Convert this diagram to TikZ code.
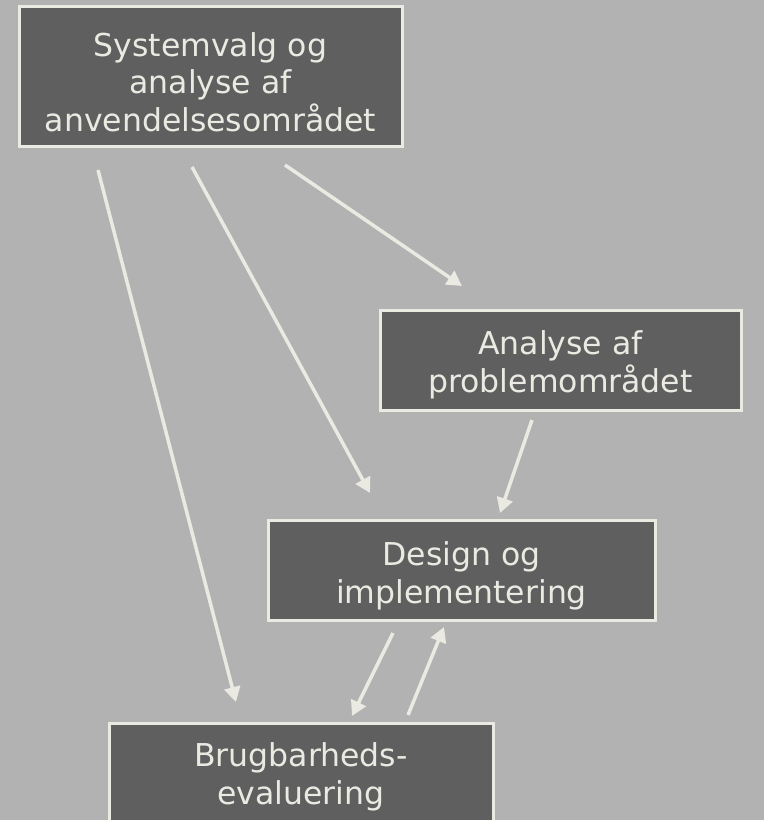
\documentclass[tikz,border=0pt]{standalone}
\usepackage{fontspec}
\setmainfont{DejaVu Sans}
\usetikzlibrary{arrows.meta}
\definecolor{bgc}{HTML}{B2B2B2}
\definecolor{boxc}{HTML}{5F5F5F}
\definecolor{linec}{HTML}{EAEAE3}
\tikzset{
  box/.style={draw=linec, fill=boxc, line width=3pt, inner sep=0pt},
  boxtext/.style={inner sep=0pt, align=center, text=linec,
    font=\fontsize{31.5}{37.5}\selectfont},
  conn/.style={draw=linec, line width=3.5pt, -{Triangle[length=15pt,width=16pt]}}
}
\begin{document}
\begin{tikzpicture}[x=1pt,y=-1pt]
\fill[bgc] (0,0) rectangle (764,820);
\useasboundingbox (0,0) rectangle (764,820);
\node[box, minimum width=383pt, minimum height=140pt] (sys) at (210.5,76) {};
\node[boxtext] (syst) at ([yshift=-6pt]sys.center)
  {Systemvalg og\\analyse af\\anvendelsesområdet};
\node[box, minimum width=361pt, minimum height=100pt] (prob) at (560.5,360) {};
\node[boxtext] (probt) at ([yshift=-5pt]prob.center)
  {Analyse af\\problemområdet};
\node[box, minimum width=387pt, minimum height=100pt] (des) at (461.5,570) {};
\node[boxtext] (dest) at ([yshift=-6pt]des.center)
  {Design og\\implementering};
\node[box, minimum width=384pt, minimum height=100pt] (eval) at (301,773) {};
\node[boxtext] (evalt) at ([yshift=-4pt]eval.center)
  {Brugbarheds-\\evaluering};
\coordinate (a1s) at (98,170);   \coordinate (a1e) at (236,702);
\coordinate (a2s) at (192,167);  \coordinate (a2e) at (370,493);
\coordinate (a3s) at (285,165);  \coordinate (a3e) at (462,286);
\coordinate (a4s) at (532,420);  \coordinate (a4e) at (500,513);
\coordinate (a5s) at (393,633);  \coordinate (a5e) at (352,716);
\coordinate (a6s) at (408,715);  \coordinate (a6e) at (444,627);
\draw[conn] (a1s) -- (a1e);
\draw[conn] (a2s) -- (a2e);
\draw[conn] (a3s) -- (a3e);
\draw[conn] (a4s) -- (a4e);
\draw[conn] (a5s) -- (a5e);
\draw[conn] (a6s) -- (a6e);
\end{tikzpicture}
\end{document}
